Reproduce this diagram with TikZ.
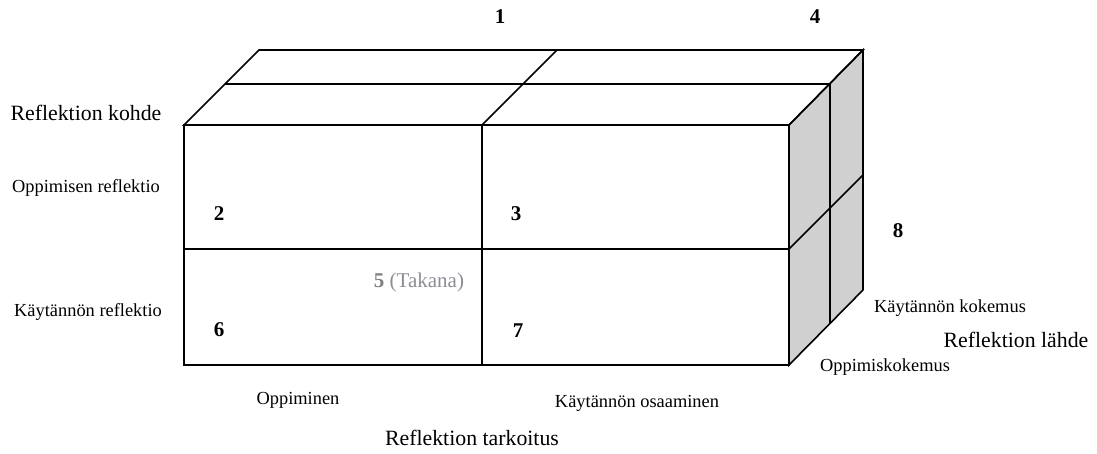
\documentclass[tikz,border=0pt]{standalone}
\usepackage{fontspec}
\setmainfont{Liberation Serif}
\definecolor{facegray}{RGB}{208,208,208}
\definecolor{txtgray}{RGB}{128,128,128}
\definecolor{txtgray2}{RGB}{140,140,150}
\begin{document}
\begin{tikzpicture}[x=1pt,y=-1pt,
  edge/.style={line width=1.6pt,line join=miter},
  small/.style={font=\fontsize{18.4}{20}\selectfont,inner sep=0pt},
  big/.style={font=\fontsize{21.8}{24}\selectfont,inner sep=0pt},
  num/.style={font=\fontsize{21}{23}\selectfont\bfseries,inner sep=0pt}]
\useasboundingbox (0,0) rectangle (1097,453);
% faces
\fill[white] (184,125) rectangle (789,365);
\draw[edge,fill=facegray] (789,125) -- (863,50) -- (863,290) -- (789,365) -- cycle;
\draw[edge] (184,125) -- (259,50) -- (863,50) -- (789,125) -- cycle;
\draw[edge] (184,125) rectangle (789,365);
% dividers
\draw[edge] (225,84) -- (830,84);
\draw[edge] (482,125) -- (557,50);
\draw[edge] (830,84) -- (830,324);
\draw[edge] (789,249) -- (863,175);
\draw[edge] (482,125) -- (482,365);
\draw[edge] (184,249) -- (789,249);
% labels
\node[num] (n1) at (500,17) {1};
\node[num] (n4) at (815,17) {4};
\node[num] (n2) at (219,214) {2};
\node[num] (n3) at (516,214) {3};
\node[num] (n6) at (219,330) {6};
\node[num] (n7) at (518,331) {7};
\node[num] (n8) at (898,231) {8};
\node[num,font=\fontsize{21}{23}\selectfont] (n5) at (419,282) {\textcolor{txtgray}{\bfseries 5} \textcolor{txtgray2}{(Takana)}};
\node[big] (kohde) at (86,113) {Reflektion kohde};
\node[small] (opref) at (86,188) {Oppimisen reflektio};
\node[small] (kayref) at (88,312) {Käytännön reflektio};
\node[small] (kaykok) at (950,308) {Käytännön kokemus};
\node[big] (lahde) at (1016,340) {Reflektion lähde};
\node[small] (oppkok) at (885,367) {Oppimiskokemus};
\node[small] (oppim) at (298,400) {Oppiminen};
\node[small] (osaam) at (637,403) {Käytännön osaaminen};
\node[big] (tark) at (472,438) {Reflektion tarkoitus};
\end{tikzpicture}
\end{document}
